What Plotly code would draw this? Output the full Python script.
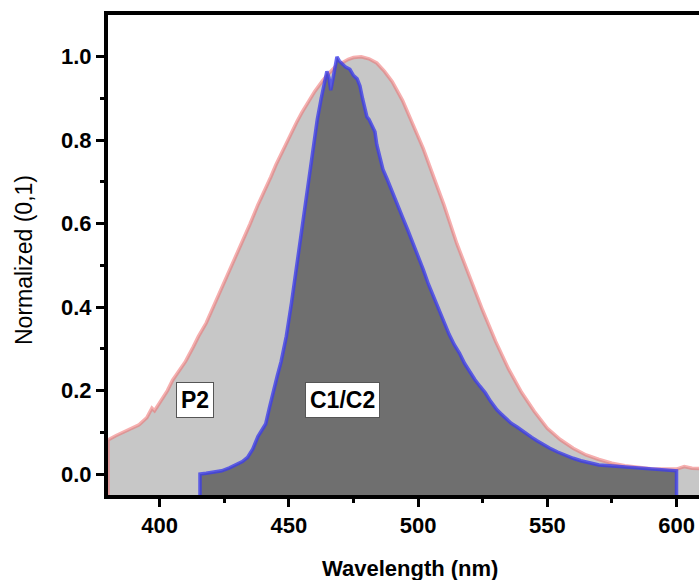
import plotly.graph_objects as go

# ---------------- data ----------------
p2_wavelength = [380, 383, 386, 389, 392, 395, 397, 398, 400, 403, 405, 408, 410, 413, 415,
                 418, 420, 423, 425, 428, 430, 433, 435, 438, 440, 443, 445, 448, 450, 453,
                 455, 458, 460, 463, 465, 468, 470, 473, 475, 478, 481, 484, 487, 490, 494,
                 498, 502, 506, 510, 515, 520, 525, 530, 535, 540, 545, 550, 555, 560, 565,
                 570, 575, 580, 585, 590, 595, 600, 603, 606, 610, 615, 620]
p2_intensity = [0.082, 0.092, 0.100, 0.108, 0.118, 0.135, 0.158, 0.152, 0.172, 0.200, 0.225, 0.250,
                0.270, 0.305, 0.330, 0.362, 0.390, 0.430, 0.458, 0.500, 0.527, 0.572, 0.600, 0.645,
                0.671, 0.712, 0.741, 0.780, 0.807, 0.843, 0.866, 0.897, 0.917, 0.942, 0.957, 0.976,
                0.984, 0.994, 0.998, 1.000, 0.995, 0.985, 0.965, 0.940, 0.895, 0.840, 0.780, 0.712,
                0.645, 0.552, 0.470, 0.392, 0.318, 0.252, 0.196, 0.150, 0.110, 0.083, 0.062, 0.046,
                0.035, 0.026, 0.020, 0.016, 0.013, 0.012, 0.012, 0.018, 0.014, 0.013, 0.012, 0.011]

c1c2_wavelength = [415.6, 418, 421, 424, 427, 430, 432, 434, 436, 438, 439.5, 441, 442.5, 444, 445.5,
                   447, 449, 451, 453, 455, 457, 459, 461, 462.5, 463.5, 464.7, 465.5, 466.2, 467,
                   468, 468.6, 469.5, 470.5, 472, 473.6, 475, 476.4, 477.5, 478.5, 479.5, 480.2, 481,
                   482, 483.3, 484, 485, 486.4, 488, 490, 492, 494, 496, 498, 500, 502, 504, 506,
                   508, 510, 512, 514, 516, 518, 520, 522, 524, 526, 528, 530.5, 532, 534, 536,
                   538.3, 540, 542, 544, 546, 548, 551, 554, 557, 560, 563, 566.5, 570, 574, 578,
                   583, 588, 592, 596, 600]
c1c2_intensity = [0.000, 0.002, 0.004, 0.008, 0.015, 0.024, 0.030, 0.040, 0.060, 0.090, 0.105, 0.120,
                  0.160, 0.200, 0.235, 0.270, 0.330, 0.410, 0.500, 0.590, 0.680, 0.770, 0.850, 0.900,
                  0.930, 0.965, 0.950, 0.920, 0.945, 0.980, 1.000, 0.990, 0.985, 0.975, 0.970, 0.955,
                  0.947, 0.930, 0.900, 0.875, 0.856, 0.850, 0.835, 0.820, 0.790, 0.765, 0.730, 0.707,
                  0.675, 0.645, 0.615, 0.585, 0.555, 0.525, 0.490, 0.455, 0.425, 0.390, 0.360, 0.335,
                  0.310, 0.290, 0.265, 0.245, 0.226, 0.210, 0.195, 0.175, 0.154, 0.145, 0.132, 0.122,
                  0.113, 0.105, 0.097, 0.088, 0.080, 0.072, 0.062, 0.053, 0.045, 0.038, 0.032, 0.026,
                  0.022, 0.020, 0.018, 0.015, 0.013, 0.012, 0.010, 0.008]

x_ticks = [400, 450, 500, 550, 600]
x_minor = [425, 475, 525, 575]
y_ticks = [0.0, 0.2, 0.4, 0.6, 0.8, 1.0]
y_minor = [0.1, 0.3, 0.5, 0.7, 0.9]
labels = ["P2", "C1/C2"]
label_x = [413.8, 470.9]
label_y = [0.178, 0.178]

X_RANGE = [380, 608.7]
Y_RANGE = [-0.05, 1.1]
BASE = Y_RANGE[0]

FONT = "Liberation Sans, Arial, sans-serif"

fig = go.Figure()

# P2 area (light grey) with pink outline
fig.add_trace(go.Scatter(
    x=[p2_wavelength[0]] + p2_wavelength + [p2_wavelength[-1]],
    y=[BASE] + p2_intensity + [BASE],
    mode="lines", fill="toself", fillcolor="#c7c7c7",
    line=dict(color="rgba(238,110,110,0.55)", width=3.5),
    hoverinfo="skip", showlegend=False))

# C1/C2 area (dark grey) with blue outline
fig.add_trace(go.Scatter(
    x=[c1c2_wavelength[0]] + c1c2_wavelength + [c1c2_wavelength[-1]],
    y=[BASE] + c1c2_intensity + [BASE],
    mode="lines", fill="toself", fillcolor="#6f6f6f",
    line=dict(color="rgba(60,60,235,0.78)", width=3.5),
    hoverinfo="skip", showlegend=False))

# text labels
for lx, ly, txt in zip(label_x, label_y, labels):
    fig.add_annotation(x=lx, y=ly, text="<b>" + txt + "</b>", showarrow=False,
                       font=dict(family=FONT, size=23, color="black"),
                       bgcolor="white", bordercolor="#555555", borderwidth=1, borderpad=4)

# axis titles as annotations for exact placement
fig.add_annotation(xref="paper", yref="paper", x=0, y=0.5, xanchor="center", yanchor="middle",
                   xshift=-84, yshift=-5, textangle=-90, text="Normalized (0,1)", showarrow=False,
                   font=dict(family=FONT, size=23, color="black"))
fig.add_annotation(xref="x", yref="paper", x=497, y=0, xanchor="center", yanchor="middle",
                   yshift=-73, text="<b>Wavelength (nm)</b>", showarrow=False,
                   font=dict(family=FONT, size=22, color="black"))

fig.update_layout(
    width=699, height=580,
    margin=dict(l=108, r=0, t=15, b=85),
    paper_bgcolor="white", plot_bgcolor="white",
    font=dict(family=FONT, color="black"),
    xaxis=dict(range=X_RANGE, tickvals=x_ticks, ticks="outside", ticklen=8, tickwidth=3,
               tickcolor="black", showline=True, linewidth=4, linecolor="black", mirror=True,
               showgrid=False, zeroline=False,
               tickfont=dict(family=FONT, size=22, color="black", weight="bold"),
               minor=dict(tickvals=x_minor, ticks="outside", ticklen=4,
                          tickwidth=3, tickcolor="black")),
    yaxis=dict(range=Y_RANGE, tickvals=y_ticks, tickformat=".1f", ticks="outside", ticklen=8,
               tickwidth=3, tickcolor="black", showline=True, linewidth=4, linecolor="black",
               mirror=False, showgrid=False, zeroline=False,
               tickfont=dict(family=FONT, size=22, color="black", weight="bold"),
               minor=dict(tickvals=y_minor, ticks="outside", ticklen=4,
                          tickwidth=3, tickcolor="black")),
)

fig.write_html("out.html")
